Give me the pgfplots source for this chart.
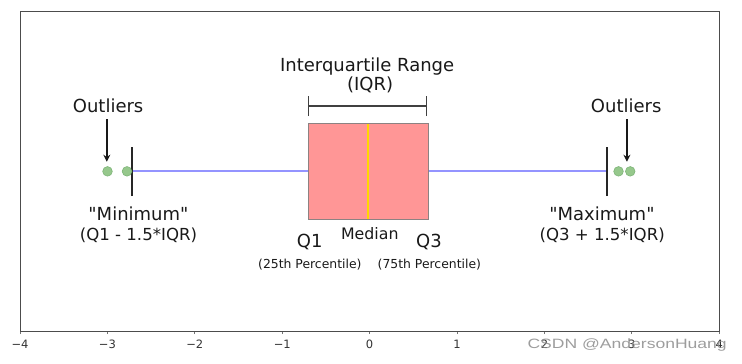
\documentclass[border=0pt]{standalone}
\usepackage{pgfplots}
\pgfplotsset{compat=1.18}
\usepackage{fontspec}
\setmainfont{DejaVu Sans}
\newfontfamily\wmfont{Liberation Sans}
\usetikzlibrary{arrows.meta}
\definecolor{boxred}{RGB}{255,150,150}
\definecolor{boxedge}{RGB}{140,130,130}
\definecolor{medgold}{RGB}{255,215,0}
\definecolor{outfill}{RGB}{150,200,140}
\definecolor{outedge}{RGB}{125,180,120}
\definecolor{txt}{RGB}{25,25,25}
\newcommand{\bigtxt}{\fontsize{18bp}{20bp}\selectfont}
\newcommand{\midtxt}{\fontsize{16.6bp}{19bp}\selectfont}
\begin{document}
\begin{tikzpicture}
\begin{axis}[
  scale only axis, width=699.3bp, height=320.7bp,
  xmin=-4, xmax=4, ymin=0, ymax=1,
  clip=false,
  xtick={-4,-3,-2,-1,0,1,2,3,4},
  xticklabels={−4,−3,−2,−1,0,1,2,3,4},
  ytick=\empty,
  xtick pos=bottom, tick align=outside,
  major tick length=2.5bp,
  xtick style={draw=black!55, line width=0.8bp},
  xticklabel style={font=\fontsize{11.5bp}{13bp}\selectfont, text=black!80, inner sep=0pt, yshift=-6bp},
  axis line style={draw=black!70, line width=0.9bp},
]
% whiskers
\addplot[blue!42, line width=2bp] coordinates {(-2.714,0.5) (-0.698,0.5)};
\addplot[blue!42, line width=2bp] coordinates {(0.675,0.5) (2.716,0.5)};
% box
\addplot[fill=boxred, draw=boxedge, line width=1.3bp] coordinates {(-0.698,0.35) (0.675,0.35) (0.675,0.65) (-0.698,0.65)} -- cycle;
% median
\addplot[draw=medgold, line width=2.4bp] coordinates {(-0.021,0.352) (-0.021,0.648)};
% outliers
\addplot[only marks, mark=*, mark size=4.8bp, mark options={fill=outfill, draw=outedge, line width=0.6bp}] coordinates {(-2.999,0.5) (-2.776,0.5) (2.847,0.5) (2.981,0.5)};
% caps
\addplot[draw=black!85, line width=2bp] coordinates {(-2.714,0.423) (-2.714,0.577)};
\addplot[draw=black!85, line width=2bp] coordinates {(2.716,0.423) (2.716,0.577)};

% annotations
\node[anchor=base, text=txt, inner sep=0pt] at (axis cs:-0.029,0.812) {\bigtxt Interquartile Range};
\node[anchor=base, text=txt, inner sep=0pt] at (axis cs:0.006,0.752) {\bigtxt (IQR)};
\draw[black!75, line width=1.2bp] (axis cs:-0.70,0.704) -- (axis cs:0.647,0.704);
\draw[black!75, line width=1.2bp] (axis cs:-0.70,0.672) -- (axis cs:-0.70,0.735);
\draw[black!75, line width=1.2bp] (axis cs:0.647,0.672) -- (axis cs:0.647,0.735);

\node[anchor=base, text=txt, inner sep=0pt] at (axis cs:-2.992,0.683) {\bigtxt Outliers};
\node[anchor=base, text=txt, inner sep=0pt] at (axis cs:2.935,0.683) {\bigtxt Outliers};
\draw[-{Stealth[length=7bp,width=7bp]}, black!90, line width=1.5bp] (axis cs:-3.007,0.662) -- (axis cs:-3.007,0.530);
\draw[-{Stealth[length=7bp,width=7bp]}, black!90, line width=1.5bp] (axis cs:2.943,0.662) -- (axis cs:2.943,0.530);

\node[anchor=base, text=txt, inner sep=0pt] at (axis cs:-2.645,0.348) {\bigtxt \textquotedbl Minimum\textquotedbl};
\node[anchor=base, text=txt, inner sep=0pt] at (axis cs:-2.645,0.285) {\midtxt (Q1 - 1.5*IQR)};
\node[anchor=base, text=txt, inner sep=0pt] at (axis cs:2.657,0.348) {\bigtxt \textquotedbl Maximum\textquotedbl};
\node[anchor=base, text=txt, inner sep=0pt] at (axis cs:2.660,0.285) {\midtxt (Q3 + 1.5*IQR)};

\node[anchor=base, text=txt, inner sep=0pt] at (axis cs:-0.686,0.261) {\bigtxt Q1};
\node[anchor=base, text=txt, inner sep=0pt] at (axis cs:0.002,0.288) {\fontsize{15.8bp}{18bp}\selectfont Median};
\node[anchor=base, text=txt, inner sep=0pt] at (axis cs:0.678,0.261) {\bigtxt Q3};
\node[anchor=base, text=txt, inner sep=0pt] at (axis cs:-0.684,0.197) {\fontsize{12.4bp}{14bp}\selectfont (25th Percentile)};
\node[anchor=base, text=txt, inner sep=0pt] at (axis cs:0.683,0.197) {\fontsize{12.4bp}{14bp}\selectfont (75th Percentile)};

% watermark
\node[anchor=center, text=black!45, inner sep=0pt, opacity=0.85] at (axis cs:2.946,-0.041) {\scalebox{1.3}[1]{\wmfont\fontsize{13.5bp}{15bp}\selectfont CSDN @AndersonHuang}};
\end{axis}
\path (current axis.south west) ++(-20bp,-31.3bp) coordinate (bbA);
\path (current axis.north east) ++(22.7bp,11bp) coordinate (bbB);
\path (bbA) rectangle (bbB);
\end{tikzpicture}
\end{document}
